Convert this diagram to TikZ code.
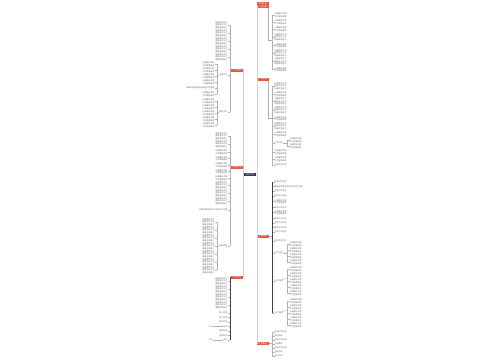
\documentclass[tikz,border=0pt]{standalone}
\usepackage{fontspec}
\newfontfamily\cjk{Noto Sans CJK SC}
\usepackage{tikz}
\definecolor{zhuti}{RGB}{45,58,74}
\definecolor{orangebr}{RGB}{234,88,60}
\colorlet{colfeuille}{black!60}
\tikzstyle{tronc}=[black!18, line width=0.9pt]
\tikzstyle{lien}=[black!30, line width=0.3pt]
\tikzstyle{fonce}=[black!75, line width=0.4pt]
\tikzstyle{centre}=[fill=zhuti, text=white, font=\cjk\fontsize{2.2}{2.6}\selectfont, minimum width=13pt, minimum height=3.5pt, inner sep=0]
\tikzstyle{branche}=[fill=orangebr, text=white, font=\cjk\fontsize{2}{2.5}\selectfont, minimum width=11.5pt, minimum height=3pt, inner sep=0.4pt, align=center]
\tikzstyle{feuille}=[text=colfeuille, font=\cjk\fontsize{2}{2.5}\selectfont, inner sep=0, align=left]
\newcommand{\tun}{完成工作任务}
\newcommand{\tdeux}{认真做好本职\\工作提高效率}
\newcommand{\ttrois}{加强理论学习\\提高业务水平\\增强综合能力}
\newcommand{\tcourt}{工作内容}
\newcommand{\tlong}{积极开展各项活动丰富工作内容}
% feuille a droite : nom, x du trait, y, texte
\newcommand{\feuilled}[4]{
  \coordinate (#1-b) at (#2,#3);
  \node[feuille,anchor=west] (#1) at (#2+2.5,#3) {#4};
  \draw[lien] (#1-b) -- (#1);
}
% feuille a gauche
\newcommand{\feuilleg}[4]{
  \coordinate (#1-b) at (#2,#3);
  \node[feuille,anchor=east] (#1) at (#2-2.5,#3) {#4};
  \draw[lien] (#1-b) -- (#1);
}
\begin{document}
\begin{tikzpicture}[x=1pt,y=-1pt]
\fill[white] (0,0) rectangle (500,360);
\useasboundingbox (0,0) rectangle (500,360);

%centre et troncs
\node[centre] (C) at (249.5,174.5) {工作计划};
\coordinate (td) at (257,174.5);
\coordinate (tg) at (243,174.5);

\node[branche,anchor=west] (R1) at (257,5) {年度工作\\计划安排};
\node[branche,anchor=west] (R2) at (257,79) {工作目标};
\node[branche,anchor=west] (R3) at (257,236) {主要措施};
\node[branche,anchor=west] (R4) at (257,343.5) {工作要求};
\node[branche,anchor=east] (L1) at (243,70) {工作重点};
\node[branche,anchor=east] (L2) at (243,167) {具体安排};
\node[branche,anchor=east] (L3) at (243,277) {时间进度};

\draw[tronc] (C.east) -- (td);
\foreach \b in {R1,R2,R3,R4}
\draw[tronc] (td) |- (\b.west);
\foreach \b in {L1,L2,L3}
\draw[tronc] (tg) |- (\b.east);

%branche R1
\foreach \y/\t [count=\i] in {15/\tdeux,22/\tdeux,29/\tdeux,37/\ttrois,45.5/\tdeux,53/\ttrois,61.5/\ttrois,69.5/\tdeux}
{\feuilled{rA\i}{272}{\y}{\t}}
\coordinate (R1j) at (272,40);
\draw[lien] ([xshift=-1pt]R1.south east) |- (R1j);
\draw[lien] (rA1-b) -- (rA8-b);

%branche R2
\foreach \y/\t [count=\i] in {86/\ttrois,94/\tdeux,101.5/\ttrois,110/\ttrois,118.5/\tdeux,126/\ttrois,134/\tdeux,143/\tcourt,152/\tdeux,159/\tdeux,165/\tun}
{\feuilled{rB\i}{272}{\y}{\t}}
\coordinate (R2j) at (272,118.5);
\draw[lien] ([xshift=-1pt]R2.south east) |- (R2j);
\draw[lien] (rB1-b) -- (rB11-b);
\coordinate (rB8-s) at (287,143);
\draw[lien] (rB8) -- (rB8-s);
\feuilled{rBa}{287}{140}{\tdeux}
\feuilled{rBb}{287}{146}{\tdeux}
\draw[lien] (rBa-b) -- (rBb-b);

%branche R3
\foreach \y/\t [count=\i] in {182/\tun,186.5/\tlong,191/\tun,196/\tun,201.5/\tdeux,207.5/\tun,212.5/\tdeux,218.5/\tun,223/\tun,227.5/\tun,232/\tun,241/\tun,253/\tcourt,281/\tcourt,313/\tcourt}
{\feuilled{rC\i}{272}{\y}{\t}}
\coordinate (R3j) at (272,236);
\draw[lien] (R3.east) -- (R3j);
\draw[fonce] (rC1-b) -- (rC15-b);
\foreach \m/\d in {13/244,14/269,15/301}
{
  \coordinate (rC\m-s) at (287,\d+9);
  \draw[lien] (rC\m) -- (rC\m-s);
  \foreach \k in {0,...,3}
  {\feuilled{rC\m-\k}{287}{\d+\k*6}{\tdeux}}
  \draw[lien] (rC\m-0-b) -- (rC\m-3-b);
}
\feuilled{rC14-4}{287}{293}{\tdeux}
\feuilled{rC15-4}{287}{325}{\tdeux}
\draw[lien] (rC14-3-b) -- (rC14-4-b);
\draw[lien] (rC15-3-b) -- (rC15-4-b);

%branche R4
\foreach \y/\t [count=\i] in {332/\tun,336/按时完成,340/\tun,344/严格要求,348/\tun,352/总结经验,356/及时汇报}
{\feuilled{rD\i}{272}{\y}{\t}}
\coordinate (R4j) at (272,343.5);
\draw[lien] (R4.east) -- (R4j);
\draw[lien] (rD1-b) -- (rD7-b);

%branche L1
\foreach \y/\t [count=\i] in {25/\ttrois,33/\ttrois,41/\ttrois,49/\ttrois,57/\ttrois,75/主要工作,112/其他工作}
{\feuilleg{lA\i}{230}{\y}{\t}}
\coordinate (L1j) at (230,70);
\draw[lien] (L1.west) -- (L1j);
\draw[lien] (lA1-b) -- (lA7-b);
\foreach \y/\t [count=\i] in {64/\tdeux,70/\tdeux,76/\tdeux,82/\tdeux,88/\tlong,94/\tdeux}
{\feuilleg{lB\i}{217}{\y}{\t}}
\coordinate (lA6-s) at (217,75);
\draw[lien] (lA6) -- (lA6-s);
\draw[lien] (lB1-b) -- (lB6-b);
\foreach \y/\t [count=\i] in {101/\tdeux,107/\tdeux,113/\tdeux,119/\tdeux,125/\tdeux}
{\feuilleg{lC\i}{217}{\y}{\t}}
\coordinate (lA7-s) at (217,112);
\draw[lien] (lA7) -- (lA7-s);
\draw[lien] (lC1-b) -- (lC5-b);

%branche L2
\foreach \y/\t [count=\i] in {136/\ttrois,144/\ttrois,152/\tdeux,158.5/\tdeux,165/\tdeux,171.5/\tdeux,178/\tdeux,185/\ttrois,193/\ttrois,201/\ttrois,210/\tlong,246/具体内容}
{\feuilleg{lD\i}{230}{\y}{\t}}
\coordinate (L2j) at (230,167);
\draw[lien] (L2.west) -- (L2j);
\draw[lien] (lD1-b) -- (lD12-b);
\foreach \y [count=\i] in {222,230,238,246,254,262,270}
{\feuilleg{lE\i}{217}{\y}{\ttrois}}
\coordinate (lD12-s) at (217,246);
\draw[lien] (lD12) -- (lD12-s);
\draw[lien] (lE1-b) -- (lE7-b);

%branche L3
\foreach \y/\t [count=\i] in {281/\ttrois,289/\ttrois,297/\ttrois,305/\ttrois,313/第一阶段,317.5/第二阶段,322/第三阶段,326.5/月份,331/第四阶段,335.5/第五阶段,340/月份}
{\feuilleg{lF\i}{230}{\y}{\t}}
\coordinate (L3j) at (230,277);
\draw[lien] (L3.west) -- (L3j);
\draw[fonce] (L3j) -- (lF11-b);
\feuilleg{lFa}{215}{326.5}{三月}
\feuilleg{lFb}{215}{340}{六月}
\draw[lien] (lF8) -- (lFa-b);
\draw[lien] (lF11) -- (lFb-b);
\end{tikzpicture}
\end{document}
